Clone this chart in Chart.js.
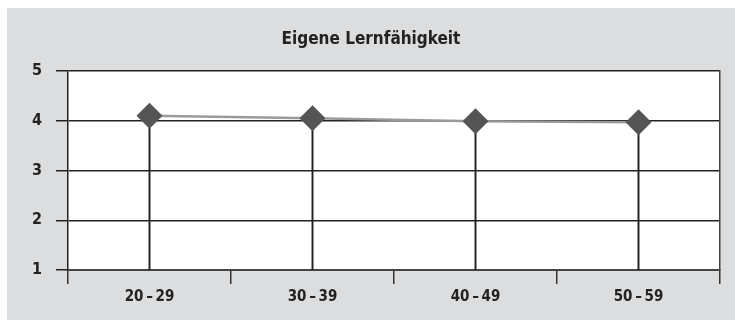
<!DOCTYPE html>
<html>
<head>
<meta charset="utf-8">
<script src="https://cdn.jsdelivr.net/npm/chart.js@4/dist/chart.umd.min.js"></script>
<style>
  html, body { margin: 0; padding: 0; background: #ffffff; }
  #panel {
    position: absolute; left: 7px; top: 8px;
    width: 728px; height: 312px;
    background: #dcdddf;
  }
  canvas { display: block; }
</style>
</head>
<body>
<div id="panel"><canvas id="c" width="728" height="312"></canvas></div>
<script>
// Age groups and mean self-rating of learning ability
const categories = ['20\u2009–\u200929', '30\u2009–\u200939', '40\u2009–\u200949', '50\u2009–\u200959'];
const ratings = [4.1, 4.05, 3.99, 3.97];
const scaleMin = 1;
const scaleMax = 5;
const chartTitle = 'Eigene Lernfähigkeit';

const FONT = "'Liberation Sans Narrow', 'DejaVu Sans Condensed', 'Arial Narrow', sans-serif";
const INK = '#222222';

// white plotting field on the grey panel
const plotField = {
  id: 'plotField',
  beforeDraw(chart) {
    const { ctx, chartArea: a } = chart;
    ctx.save();
    ctx.fillStyle = '#ffffff';
    ctx.fillRect(a.left, a.top, a.right - a.left, a.bottom - a.top);
    ctx.restore();
  }
};

new Chart(document.getElementById('c'), {
  type: 'line',
  plugins: [plotField],
  data: {
    labels: categories,
    datasets: [
      {
        // marker with the connecting line
        type: 'line',
        data: ratings,
        order: 0,
        borderColor: '#9a9a9a',
        borderWidth: 2.5,
        pointStyle: 'rectRot',
        pointRadius: 13,
        pointHoverRadius: 13,
        pointBackgroundColor: '#555555',
        pointBorderColor: '#555555',
        pointBorderWidth: 0,
        tension: 0,
        clip: false
      },
      {
        // thin drop line from each marker down to the axis
        type: 'bar',
        data: ratings,
        order: 1,
        backgroundColor: INK,
        barThickness: 1.3
      }
    ]
  },
  options: {
    responsive: false,
    animation: false,
    devicePixelRatio: 1,
    layout: { padding: 0 },
    plugins: {
      legend: { display: false },
      tooltip: { enabled: false },
      title: {
        display: true,
        text: chartTitle,
        color: INK,
        font: { family: FONT, size: 17, weight: 'bold' },
        padding: { top: 21, bottom: 21.6 }
      }
    },
    scales: {
      x: {
        type: 'category',
        offset: true,
        grid: {
          offset: true,
          drawOnChartArea: false,
          drawTicks: true,
          tickLength: 14,
          color: '#333333',
          lineWidth: 1.5
        },
        border: { display: true, color: '#444444', width: 2 },
        ticks: {
          color: INK,
          padding: 4,
          maxRotation: 0,
          font: { family: FONT, size: 15, weight: 'bold' }
        },
        afterFit(scale) { scale.height = 50; }
      },
      y: {
        position: 'left',
        min: scaleMin,
        max: scaleMax,
        grid: {
          drawTicks: true,
          tickLength: 12,
          color: INK,
          lineWidth: 1.5
        },
        border: { display: true, color: INK, width: 1.5 },
        ticks: {
          stepSize: 1,
          color: INK,
          padding: 14,
          font: { family: FONT, size: 16, weight: 'bold' }
        },
        afterFit(scale) { scale.width = 61; }
      },
      yRight: {
        position: 'right',
        min: scaleMin,
        max: scaleMax,
        grid: { drawOnChartArea: false, drawTicks: false },
        border: { display: true, color: '#444444', width: 1.5 },
        ticks: { display: false },
        afterFit(scale) { scale.width = 15; }
      }
    }
  }
});
</script>
</body>
</html>
